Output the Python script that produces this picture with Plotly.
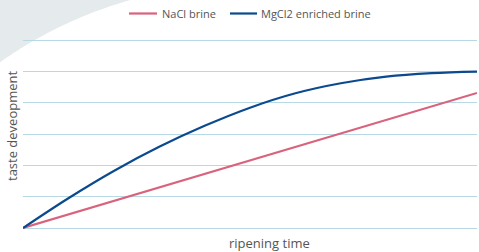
import math
import plotly.graph_objects as go

# Data
ripening_time = [0, 1, 2, 3, 4, 5, 6, 7, 8, 9, 10]
nacl_brine = [0, 0.431, 0.862, 1.293, 1.724, 2.155, 2.586, 3.017, 3.448, 3.879, 4.31]
mgcl2_brine = [0, 0.95, 1.82, 2.59, 3.26, 3.84, 4.30, 4.62, 4.83, 4.94, 4.99]
y_ticks = [0, 1, 2, 3, 4, 5, 6]
series_names = ["NaCl brine", "MgCl2 enriched brine"]
series_colors = ["#d9627c", "#0b4a8e"]

W, H = 479, 252
PAD = 4  # px of padding above/below the outer gridlines
L, R, T, B = 23, 2, 40 - PAD, 24 - PAD
pw, ph = W - L - R, H - T - B
unit_px = 188 / 6
ypad = PAD / unit_px

def px_to_paper_x(px):
    return (px - L) / pw

def px_to_paper_y(py):
    return (H - B - py) / ph

fig = go.Figure()
fig.add_trace(go.Scatter(x=ripening_time, y=nacl_brine, mode="lines", name=series_names[0],
                         line=dict(color=series_colors[0], width=2.2), showlegend=False, hoverinfo="skip"))
fig.add_trace(go.Scatter(x=ripening_time, y=mgcl2_brine, mode="lines", name=series_names[1],
                         line=dict(color=series_colors[1], width=2.2, shape="spline", smoothing=1.0),
                         showlegend=False, hoverinfo="skip"))

# decorative grey corner (arc of a large circle)
cx, cy, r = 246, 410, 426
path = f"M {px_to_paper_x(-2)},{px_to_paper_y(-2)}"
for i in range(0, 41):
    yy = 63 * i / 40
    xx = cx - math.sqrt(max(r * r - (cy - yy) ** 2, 0))
    if i == 0:
        path += f" L {px_to_paper_x(xx)},{px_to_paper_y(-2)}"
    path += f" L {px_to_paper_x(max(xx, -2))},{px_to_paper_y(yy)}"
path += f" L {px_to_paper_x(-2)},{px_to_paper_y(63)} Z"
fig.add_shape(type="path", xref="paper", yref="paper", path=path,
              fillcolor="#e5eaed", line=dict(width=0), layer="below")

# legend drawn manually
leg = [(129, 157, 160), (230, 257, 259)]
annotations = []
for (x0, x1, xt), name, col in zip(leg, series_names, series_colors):
    fig.add_shape(type="line", xref="paper", yref="paper",
                  x0=px_to_paper_x(x0), x1=px_to_paper_x(x1),
                  y0=px_to_paper_y(13.5), y1=px_to_paper_y(13.5),
                  line=dict(color=col, width=2.2))
    annotations.append(dict(text=name, xref="paper", yref="paper", x=px_to_paper_x(xt),
                            y=px_to_paper_y(13), xanchor="left", yanchor="middle", showarrow=False,
                            font=dict(size=11, color="#555555")))

annotations += [
    dict(text="taste deveopment", xref="paper", yref="paper", x=px_to_paper_x(12), y=px_to_paper_y(126),
         xanchor="center", yanchor="middle",
         showarrow=False, textangle=-90, font=dict(size=13, color="#555555")),
    dict(text="ripening time", xref="paper", yref="paper", x=px_to_paper_x(269), y=px_to_paper_y(243),
         xanchor="center", yanchor="middle",
         showarrow=False, font=dict(size=13, color="#555555")),
]

fig.update_layout(
    width=W, height=H,
    margin=dict(l=L, r=R, t=T, b=B, autoexpand=False),
    paper_bgcolor="white",
    plot_bgcolor="rgba(0,0,0,0)",
    font=dict(family="Open Sans", color="#555555"),
    showlegend=False,
    hovermode=False,
    xaxis=dict(range=[0, 10 * pw / 454], showgrid=False, zeroline=False, showticklabels=False,
               showline=False, ticks=""),
    yaxis=dict(range=[-ypad, 6 + ypad], tickvals=y_ticks, showgrid=True, gridcolor="#b7d9e4", gridwidth=1.2,
               zeroline=False, showticklabels=False, showline=False, ticks=""),
    annotations=annotations,
)

fig.write_html("out.html", config={"displayModeBar": False},
               post_script="document.body.style.margin='0';document.body.style.padding='0';")
